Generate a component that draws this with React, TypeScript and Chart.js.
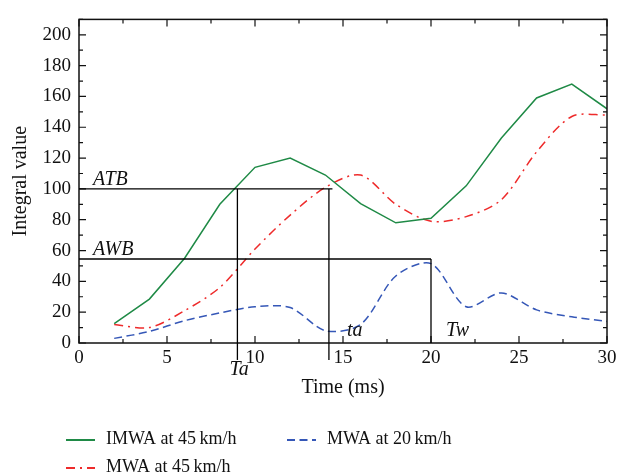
import React, { useEffect, useRef } from "react";
import { Chart, registerables } from "chart.js";

Chart.register(...registerables);

// ---- data ----
const times = [2, 4, 6, 8, 10, 12, 14, 16, 18, 20, 22, 24, 26, 28, 30];
const imwa45 = [12.5, 28.5, 55, 90, 114, 120, 109, 90.5, 78, 81, 102, 133, 159, 168, 152];
const mwa45 = [12, 10, 21, 36, 61, 83, 101, 109, 90, 79, 82, 93, 124, 147, 148];
const mwa20 = [3, 7.5, 14.5, 19.5, 23.5, 23, 8, 12, 43.5, 51.5, 23.5, 32.5, 21.5, 17, 14];

const seriesNames = ["IMWA at 45\u2009km/h", "MWA at 45\u2009km/h", "MWA at 20\u2009km/h"];

const xTickValues = [0, 5, 10, 15, 20, 25, 30];
const yTickValues = [0, 20, 40, 60, 80, 100, 120, 140, 160, 180, 200];

// reference levels (horizontal) and times (vertical)
const levelNames = ["ATB", "AWB"];
const levelValues = [100, 54.5];
const levelEnds = [14.4, 20];
const timeNames = ["Ta", "ta", "Tw"];
const timeValues = [9, 14.2, 20];
const timeTops = [100, 100, 54.5];
const timeBottoms = [-11, -11, 0];

const FONT = "'Liberation Serif', 'Times New Roman', serif";
const GREEN = "#1f8a46";
const RED = "#ee2b2b";
const BLUE = "#3557b7";

const framePlugin = {
  id: "frameAndAnnotations",
  afterDraw(chart: any) {
    const ctx = chart.ctx;
    const { left, right, top, bottom } = chart.chartArea;
    const xs = chart.scales.x;
    const ys = chart.scales.y;
    ctx.save();
    ctx.strokeStyle = "#111";
    ctx.lineWidth = 1.5;
    ctx.strokeRect(left, top, right - left, bottom - top);
    // inward ticks
    ctx.lineWidth = 1.2;
    for (let v = 0; v <= 30; v += 2.5) {
      const px = xs.getPixelForValue(v);
      const len = v % 5 === 0 ? 7 : 4;
      ctx.beginPath();
      ctx.moveTo(px, bottom);
      ctx.lineTo(px, bottom - len);
      ctx.moveTo(px, top);
      ctx.lineTo(px, top + len);
      ctx.stroke();
    }
    for (let v = 0; v <= 210; v += 10) {
      const py = ys.getPixelForValue(v);
      const len = v % 20 === 0 ? 7 : 4;
      ctx.beginPath();
      ctx.moveTo(left, py);
      ctx.lineTo(left + len, py);
      ctx.moveTo(right, py);
      ctx.lineTo(right - len, py);
      ctx.stroke();
    }
    // reference lines
    ctx.lineWidth = 1.3;
    ctx.strokeStyle = "#000";
    levelValues.forEach((lv, i) => {
      const py = ys.getPixelForValue(lv);
      ctx.beginPath();
      ctx.moveTo(xs.getPixelForValue(0), py);
      ctx.lineTo(xs.getPixelForValue(levelEnds[i]), py);
      ctx.stroke();
    });
    timeValues.forEach((tv, i) => {
      const px = xs.getPixelForValue(tv);
      ctx.beginPath();
      ctx.moveTo(px, ys.getPixelForValue(timeTops[i]));
      ctx.lineTo(px, ys.getPixelForValue(timeBottoms[i]));
      ctx.stroke();
    });
    // labels
    ctx.fillStyle = "#111";
    ctx.font = `italic 20px ${FONT}`;
    ctx.textAlign = "left";
    ctx.textBaseline = "alphabetic";
    levelNames.forEach((name, i) => {
      ctx.fillText(name, xs.getPixelForValue(0) + 14, ys.getPixelForValue(levelValues[i]) - 4);
    });
    // Ta below axis, ta and Tw above axis
    ctx.fillText(timeNames[0], xs.getPixelForValue(timeValues[0]) - 8, bottom + 32);
    ctx.fillText(timeNames[1], xs.getPixelForValue(timeValues[1]) + 18, bottom - 7);
    ctx.fillText(timeNames[2], xs.getPixelForValue(timeValues[2]) + 15, bottom - 7);

    // legend
    const ds = chart.data.datasets;
    const entries = [
      { i: 0, x: 66, y: 440 },
      { i: 2, x: 287, y: 440 },
      { i: 1, x: 66, y: 468 },
    ];
    ctx.font = `18px ${FONT}`;
    ctx.textBaseline = "middle";
    entries.forEach((e) => {
      const d = ds[e.i];
      ctx.save();
      ctx.strokeStyle = d.borderColor;
      ctx.lineWidth = 2;
      ctx.setLineDash(d.borderDash || []);
      ctx.beginPath();
      ctx.moveTo(e.x, e.y);
      ctx.lineTo(e.x + 29, e.y);
      ctx.stroke();
      ctx.restore();
      ctx.fillStyle = "#111";
      ctx.fillText(d.label, e.x + 40, e.y - 1);
    });
    ctx.restore();
  },
};

export default function App() {
  const ref = useRef<HTMLCanvasElement>(null);
  useEffect(() => {
    if (!ref.current) return;
    Chart.defaults.font.family = FONT;
    Chart.defaults.color = "#111";
    const chart = new Chart(ref.current, {
      type: "line",
      data: {
        datasets: [
          {
            label: seriesNames[0],
            data: times.map((t, i) => ({ x: t, y: imwa45[i] })),
            borderColor: GREEN,
            borderWidth: 1.5,
            pointRadius: 0,
            tension: 0,
          },
          {
            label: seriesNames[1],
            data: times.map((t, i) => ({ x: t, y: mwa45[i] })),
            borderColor: RED,
            borderWidth: 1.5,
            borderDash: [9, 5, 2, 5],
            pointRadius: 0,
            tension: 0.3,
          },
          {
            label: seriesNames[2],
            data: times.map((t, i) => ({ x: t, y: mwa20[i] })),
            borderColor: BLUE,
            borderWidth: 1.5,
            borderDash: [8, 4.5],
            pointRadius: 0,
            tension: 0.3,
          },
        ],
      },
      options: {
        animation: false,
        responsive: true,
        maintainAspectRatio: false,
        layout: { padding: { top: 7, right: 22, left: 0, bottom: 0 } },
        plugins: { legend: { display: false }, tooltip: { enabled: false } },
        scales: {
          x: {
            type: "linear",
            min: 0,
            max: 30,
            grid: { display: false, drawTicks: false },
            border: { display: false },
            afterBuildTicks: (s: any) => {
              s.ticks = xTickValues.map((v) => ({ value: v }));
            },
            afterFit: (s: any) => {
              s.height = 133;
            },
            ticks: { font: { size: 19 }, padding: 4, maxRotation: 0, autoSkip: false },
            title: { display: true, text: "Time (ms)", font: { size: 20 }, padding: 76 },
          },
          y: {
            min: 0,
            max: 210,
            grid: { display: false, drawTicks: false },
            border: { display: false },
            afterBuildTicks: (s: any) => {
              s.ticks = yTickValues.map((v) => ({ value: v }));
            },
            afterFit: (s: any) => {
              s.width = 79;
            },
            ticks: { font: { size: 19 }, padding: 8, autoSkip: false },
            title: { display: true, text: "Integral value", font: { size: 20 }, padding: 9 },
          },
        },
      },
      plugins: [framePlugin],
    });
    return () => chart.destroy();
  }, []);
  return (
    <div style={{ position: "absolute", left: 0, top: 0, width: 629, height: 476, background: "#fff" }}>
      <canvas ref={ref} />
    </div>
  );
}
